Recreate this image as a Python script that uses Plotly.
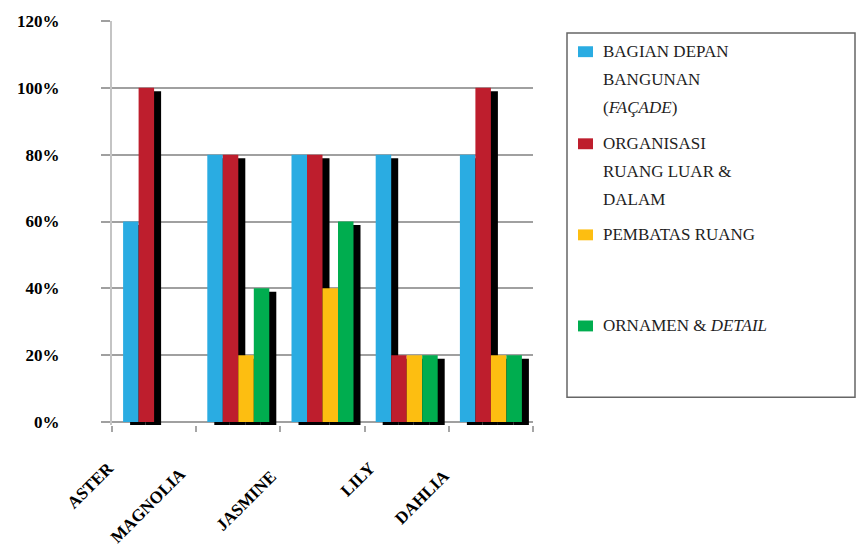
import plotly.graph_objects as go

# Data
categories = ["ASTER", "MAGNOLIA", "JASMINE", "LILY", "DAHLIA"]
series_names = [
    "BAGIAN DEPAN<br>BANGUNAN<br>(<i>FAÇADE</i>)",
    "ORGANISASI<br>RUANG LUAR &<br>DALAM",
    "PEMBATAS RUANG",
    "ORNAMEN & <i>DETAIL</i>",
]
facade = [0.60, 0.80, 0.80, 0.80, 0.80]
organisasi = [1.00, 0.80, 0.80, 0.20, 1.00]
pembatas = [0.00, 0.20, 0.40, 0.20, 0.20]
ornamen = [0.00, 0.40, 0.60, 0.20, 0.20]
y_ticks = [0, 0.2, 0.4, 0.6, 0.8, 1.0, 1.2]

series_values = [facade, organisasi, pembatas, ornamen]
colors = ["#2aace2", "#be1e2d", "#fdbe11", "#00ad4f"]
SERIF = "Liberation Serif, Times New Roman, serif"

# Layout geometry (pixels)
W, H = 857, 550
PX_L, PX_R, PX_T = 112, 533, 17
Y_MIN, Y_MAX = -0.009, 1.2
PX_ZERO = 422
px_per_unit = (PX_ZERO - PX_T) / Y_MAX
PX_B = PX_ZERO - Y_MIN * px_per_unit
px_per_cat = (PX_R - PX_L) / len(categories)

bar_w = 15.5 / px_per_cat            # bar width in category units
shadow_dx = 7 / px_per_cat           # shadow shift to the right
shadow_dy = 3.5 / px_per_unit        # shadow shift downward

x_pos = list(range(len(categories)))

fig = go.Figure()

# Drop shadows first, so every coloured bar sits above them
for i, vals in enumerate(series_values):
    fig.add_trace(go.Bar(
        x=x_pos, y=vals, base=[-shadow_dy] * len(vals),
        width=bar_w, offset=-2 * bar_w + i * bar_w + shadow_dx,
        marker=dict(color="#000000", line=dict(width=0)),
        hoverinfo="skip", showlegend=False,
    ))

for i, vals in enumerate(series_values):
    fig.add_trace(go.Bar(
        x=x_pos, y=vals,
        width=bar_w, offset=-2 * bar_w + i * bar_w,
        marker=dict(color=colors[i], line=dict(width=0)),
        name=series_names[i].replace("<br>", " "), showlegend=False,
    ))


def xp(px):
    return (px - PX_L) / (PX_R - PX_L)


def yp(py):
    return (PX_B - py) / (PX_B - PX_T)


shapes = []
annotations = []

# Category labels, rotated under each group
label_shift = [(-34, -34), (-46, -39), (-39, -42), (-25, -34), (-34, -41)]
for i, cat in enumerate(categories):
    dx, dy = label_shift[i]
    annotations.append(dict(
        x=i, y=0, xref="x", yref="y", text=cat,
        textangle=-45, xanchor="right", yanchor="top",
        xshift=dx, yshift=dy, showarrow=False,
        font=dict(family=SERIF, size=17, color="#000000", weight="bold"),
    ))

# Legend box
shapes.append(dict(
    type="rect", xref="paper", yref="paper",
    x0=xp(567), x1=xp(855), y0=yp(397), y1=yp(29),
    line=dict(color="#666666", width=1.5), fillcolor="rgba(0,0,0,0)",
))
item_top = [48, 141, 233, 325]
line_step = 28.3
for i, name in enumerate(series_names):
    cy = item_top[i]
    shapes.append(dict(
        type="rect", xref="paper", yref="paper",
        x0=xp(578), x1=xp(593), y0=yp(cy + 5.5), y1=yp(cy - 5.5),
        line=dict(width=0), fillcolor=colors[i],
    ))
    for j, line in enumerate(name.split("<br>")):
        annotations.append(dict(
            x=xp(601), y=yp(cy + j * line_step), xref="paper", yref="paper",
            text=line, xanchor="left", yanchor="middle", showarrow=False,
            font=dict(family=SERIF, size=17, color="#1e1e1e"),
        ))

fig.update_layout(
    width=W, height=H,
    margin=dict(l=PX_L, r=W - PX_R, t=PX_T, b=H - PX_B, pad=0),
    paper_bgcolor="#ffffff", plot_bgcolor="#ffffff",
    barmode="overlay", showlegend=False,
    shapes=shapes, annotations=annotations,
    font=dict(family=SERIF),
    xaxis=dict(
        range=[-0.5, len(categories) - 0.5],
        tickvals=[k - 0.5 for k in range(len(categories) + 1)],
        showticklabels=False, ticks="outside", ticklen=6,
        tickcolor="#a6a6a6", tickwidth=1.5,
        showgrid=False, zeroline=False, showline=False,
    ),
    yaxis=dict(
        range=[Y_MIN, Y_MAX], tickvals=y_ticks, tickformat=".0%",
        ticks="outside", ticklen=9, tickcolor="#a0a0a0", tickwidth=1.5,
        showgrid=True, gridcolor="#a0a0a0", gridwidth=1.5,
        zeroline=False, showline=True, linecolor="#c4c4c4", linewidth=2,
        ticklabelstandoff=38,
        tickfont=dict(family=SERIF, size=17, color="#000000", weight="bold"),
    ),
)

fig.write_html("out.html")
